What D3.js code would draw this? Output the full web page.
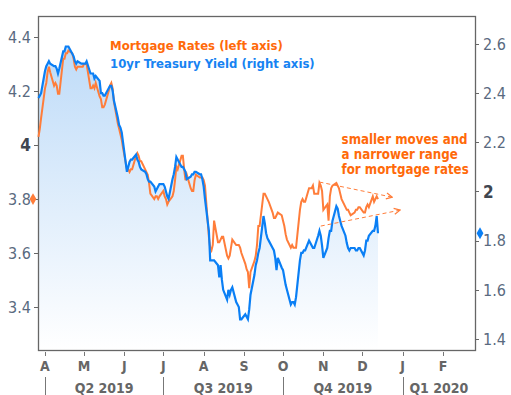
<!DOCTYPE html>
<html>
<head>
<meta charset="utf-8">
<script src="https://cdnjs.cloudflare.com/ajax/libs/d3/7.8.5/d3.min.js"></script>
<style>
body { margin: 0; background: #fff; }
text { font-family: "DejaVu Sans Condensed", "DejaVu Sans", sans-serif; }
</style>
</head>
<body>
<svg></svg>
<script>
var width = 511;
var height = 395;
var margin = {top: 16, right: 36, bottom: 45, left: 38};

// business days, Mar 27 - Dec 13 2019
var dates = d3.timeDay.range(new Date(2019, 2, 27), new Date(2019, 11, 14))
              .filter(d => d.getDay() % 6 !== 0);

// Mortgage rates (left axis), one per business day
var mortgage = [
  4.03, 4.06, 4.10,
  4.21, 4.23, 4.27, 4.29, 4.27,
  4.22, 4.23, 4.22, 4.19, 4.19,
  4.32, 4.32, 4.34, 4.34, 4.35,
  4.34, 4.32, 4.29, 4.28, 4.29,
  4.29, 4.29, 4.30, 4.30, 4.30,
  4.21, 4.21, 4.22, 4.21, 4.23,
  4.18, 4.17, 4.14, 4.14, 4.15,
  4.20, 4.22, 4.23, 4.21, 4.16,
  4.08, 4.06, 4.04, 4.02, 3.99,
  3.91, 3.91, 3.90, 3.91, 3.91,
  3.96, 3.97, 3.96, 3.94, 3.94,
  3.91, 3.90, 3.89, 3.86, 3.82,
  3.80, 3.81, 3.81, 3.80, 3.81,
  3.83, 3.81, 3.80, 3.78, 3.79,
  3.81, 3.83, 3.87, 3.92, 3.91,
  3.96, 3.96, 3.91, 3.87, 3.89,
  3.84, 3.83, 3.83, 3.87, 3.89,
  3.88, 3.88, 3.88, 3.87, 3.85,
  3.66, 3.62, 3.61, 3.63, 3.72,
  3.64, 3.64, 3.65, 3.66, 3.66,
  3.59, 3.58, 3.59, 3.62, 3.65,
  3.63, 3.63, 3.63, 3.62, 3.60,
  3.56, 3.54, 3.53, 3.47, 3.53,
  3.57, 3.59, 3.63, 3.70, 3.70,
  3.82, 3.82, 3.81, 3.80, 3.79,
  3.75, 3.73, 3.73, 3.74, 3.75,
  3.74, 3.72, 3.70, 3.67, 3.65,
  3.62, 3.63, 3.62, 3.62, 3.62,
  3.76, 3.79, 3.80, 3.79, 3.79,
  3.84, 3.84, 3.84, 3.85, 3.82,
  3.82, 3.86, 3.85, 3.83, 3.76,
  3.78, 3.72, 3.81, 3.84, 3.85,
  3.86, 3.85, 3.84, 3.82, 3.80,
  3.77, 3.76, 3.76, 3.75, 3.74,
  3.75, 3.76, 3.76, 3.77, 3.77,
  3.75, 3.75, 3.77, 3.78, 3.77,
  3.81, 3.79, 3.80, 3.81, 3.80
];

// 10yr Treasury yield (right axis)
var treasury = [
  2.38, 2.39, 2.40,
  2.49, 2.51, 2.52, 2.53, 2.52,
  2.51, 2.51, 2.50, 2.48, 2.50,
  2.57, 2.57, 2.59, 2.59, 2.59,
  2.56, 2.55, 2.53, 2.52, 2.53,
  2.52, 2.52, 2.52, 2.52, 2.53,
  2.48, 2.48, 2.48, 2.46, 2.47,
  2.45, 2.40, 2.40, 2.39, 2.39,
  2.42, 2.43, 2.43, 2.41, 2.37,
  2.30, 2.27, 2.26, 2.24, 2.20,
  2.08, 2.10, 2.12, 2.13, 2.13,
  2.15, 2.13, 2.12, 2.10, 2.09,
  2.08, 2.07, 2.05, 2.04, 2.04,
  2.02, 2.00, 2.01, 2.02, 2.03,
  2.03, 2.02, 2.00, 1.98, 1.97,
  2.05, 2.07, 2.10, 2.14, 2.13,
  2.10, 2.10, 2.09, 2.08, 2.05,
  2.06, 2.07, 2.07, 2.08, 2.08,
  2.07, 2.07, 2.05, 2.02, 1.97,
  1.84, 1.72, 1.72, 1.72, 1.72,
  1.70, 1.65, 1.70, 1.64, 1.60,
  1.56, 1.60, 1.58, 1.60, 1.61,
  1.55, 1.54, 1.53, 1.48, 1.48,
  1.50, 1.49, 1.48, 1.52, 1.58,
  1.66, 1.70, 1.72, 1.75, 1.77,
  1.90, 1.87, 1.83, 1.81, 1.80,
  1.77, 1.76, 1.73, 1.68, 1.73,
  1.69, 1.68, 1.65, 1.62, 1.60,
  1.54, 1.55, 1.55, 1.54, 1.57,
  1.72, 1.75, 1.75, 1.76, 1.76,
  1.80, 1.79, 1.78, 1.77, 1.77,
  1.82, 1.84, 1.82, 1.78, 1.73,
  1.77, 1.81, 1.84, 1.84, 1.88,
  1.94, 1.93, 1.90, 1.88, 1.86,
  1.82, 1.79, 1.77, 1.76, 1.77,
  1.77, 1.76, 1.76, 1.77, 1.77,
  1.74, 1.76, 1.80, 1.80, 1.82,
  1.84, 1.84, 1.86, 1.90, 1.83
];

var leftTicks = [3.4, 3.6, 3.8, 4, 4.2, 4.4];
var rightTicks = [1.4, 1.6, 1.8, 2, 2.2, 2.4, 2.6];
var monthTicks = d3.timeMonth.range(new Date(2019, 3, 1), new Date(2020, 1, 2));
var monthLabels = ["A", "M", "J", "J", "A", "S", "O", "N", "D", "J", "F"];
var quarterStarts = [new Date(2019, 3, 1), new Date(2019, 6, 1), new Date(2019, 9, 1), new Date(2020, 0, 1)];
var quarterLabels = ["Q2 2019", "Q3 2019", "Q4 2019", "Q1 2020"];
var legendLabels = ["Mortgage Rates (left axis)", "10yr Treasury Yield (right axis)"];
var noteLines = ["smaller moves and", "a narrower range", "for mortgage rates"];

var orange = "#ff7d3a", orangeText = "#ff6a0a";
var blue = "#0a7ff5", blueText = "#1683f2";

var svg = d3.select('svg')
            .attr('width', width)
            .attr('height', height);

var x = d3.scaleTime()
          .domain([new Date(2019, 2, 26, 15), new Date(2020, 1, 25, 14)])
          .range([margin.left, width - margin.right]);
var yL = d3.scaleLinear().domain([3.241, 4.478]).range([height - margin.bottom, margin.top]);
var yR = d3.scaleLinear().domain([1.355, 2.714]).range([height - margin.bottom, margin.top]);

var x0 = margin.left, x1 = width - margin.right;
var yTop = margin.top, yBot = height - margin.bottom;

var mData = dates.map((d, i) => ({date: d, v: mortgage[i]}));
var tData = dates.map((d, i) => ({date: d, v: treasury[i]}));

// gradient under the treasury line
var grad = svg.append("defs").append("linearGradient")
              .attr("id", "fillGrad")
              .attr("gradientUnits", "userSpaceOnUse")
              .attr("x1", 0).attr("x2", 0)
              .attr("y1", yTop + 20).attr("y2", yBot);
grad.append("stop").attr("offset", 0).attr("stop-color", "#bcdaf8");
grad.append("stop").attr("offset", 1).attr("stop-color", "#ffffff");

var marker = svg.select("defs").append("marker")
                .attr("id", "arrow")
                .attr("viewBox", "0 0 8 8")
                .attr("refX", 7).attr("refY", 4)
                .attr("markerWidth", 8).attr("markerHeight", 8)
                .attr("markerUnits", "userSpaceOnUse")
                .attr("orient", "auto");
marker.append("path").attr("d", "M1,1 L7,4 L1,7")
      .attr("fill", "none").attr("stroke", orange).attr("stroke-width", 1.2);

svg.append("path")
   .datum(tData)
   .attr("fill", "url(#fillGrad)")
   .attr("d", d3.area().x(d => x(d.date)).y0(yBot).y1(d => yR(d.v)));

// frame
svg.append("rect")
   .attr("x", x0 + 0.5).attr("y", yTop + 0.5)
   .attr("width", x1 - x0).attr("height", yBot - yTop)
   .attr("fill", "none").attr("stroke", "#666").attr("stroke-width", 1.3);

svg.append("path")
   .datum(mData)
   .attr("fill", "none").attr("stroke", orange).attr("stroke-width", 2)
   .attr("d", d3.line().x(d => x(d.date)).y(d => yL(d.v)));

svg.append("path")
   .datum(tData)
   .attr("fill", "none").attr("stroke", blue).attr("stroke-width", 2.2)
   .attr("d", d3.line().x(d => x(d.date)).y(d => yR(d.v)));

// left axis
var lg = svg.append("g");
lg.selectAll("line").data(leftTicks).enter().append("line")
  .attr("x1", x0 - 4).attr("x2", x0)
  .attr("y1", d => Math.round(yL(d)) + 0.5).attr("y2", d => Math.round(yL(d)) + 0.5)
  .attr("stroke", "#666");
lg.selectAll("text").data(leftTicks).enter().append("text")
  .attr("x", x0 - 7).attr("y", d => yL(d))
  .attr("dy", "0.36em")
  .attr("text-anchor", "end")
  .attr("font-size", d => d % 1 === 0 ? 17 : 16)
  .attr("font-weight", d => d % 1 === 0 ? "bold" : "normal")
  .attr("fill", d => d % 1 === 0 ? "#3f4650" : "#5a6a80")
  .text(d => d);

// right axis
var rg = svg.append("g");
rg.selectAll("line").data(rightTicks).enter().append("line")
  .attr("x1", x1).attr("x2", x1 + 4)
  .attr("y1", d => Math.round(yR(d)) + 0.5).attr("y2", d => Math.round(yR(d)) + 0.5)
  .attr("stroke", "#666");
rg.selectAll("text").data(rightTicks).enter().append("text")
  .attr("x", x1 + 8).attr("y", d => yR(d))
  .attr("dy", "0.36em")
  .attr("font-size", d => d % 1 === 0 ? 17 : 16)
  .attr("font-weight", d => d % 1 === 0 ? "bold" : "normal")
  .attr("fill", d => d % 1 === 0 ? "#3f4650" : "#5a6a80")
  .text(d => d);

// last-value diamonds
var diamond = d3.symbol().type(d3.symbolDiamond).size(40);
svg.append("path").attr("d", diamond)
   .attr("transform", "translate(" + (x0 - 5) + "," + yL(mortgage[mortgage.length - 1]) + ")")
   .attr("fill", orange);
svg.append("path").attr("d", diamond)
   .attr("transform", "translate(" + (x1 + 5) + "," + yR(treasury[treasury.length - 1]) + ")")
   .attr("fill", blue);

// months
var xg = svg.append("g");
xg.selectAll("line").data(monthTicks).enter().append("line")
  .attr("x1", d => Math.round(x(d)) + 0.5).attr("x2", d => Math.round(x(d)) + 0.5)
  .attr("y1", yBot + 2).attr("y2", yBot + 6)
  .attr("stroke", "#777");
xg.selectAll("text").data(monthTicks).enter().append("text")
  .attr("x", d => x(d)).attr("y", yBot + 21)
  .attr("text-anchor", "middle")
  .attr("font-size", 14).attr("font-weight", "bold")
  .attr("fill", "#666")
  .text((d, i) => monthLabels[i]);

// quarters
var qg = svg.append("g");
qg.selectAll("line").data(quarterStarts).enter().append("line")
  .attr("x1", d => Math.round(x(d)) + 0.5).attr("x2", d => Math.round(x(d)) + 0.5)
  .attr("y1", yBot + 27).attr("y2", height)
  .attr("stroke", "#777");
qg.selectAll("text").data(quarterStarts).enter().append("text")
  .attr("x", (d, i) => {
      var end = i < quarterStarts.length - 1 ? x(quarterStarts[i + 1]) : x1;
      return (x(d) + Math.min(end, x1)) / 2;
  })
  .attr("y", yBot + 43)
  .attr("text-anchor", "middle")
  .attr("font-size", 14).attr("font-weight", "bold")
  .attr("fill", "#666")
  .text((d, i) => quarterLabels[i]);

// legend
svg.append("text").attr("x", 110).attr("y", 49.5)
   .attr("font-size", 13).attr("font-weight", "bold").attr("fill", orangeText)
   .text(legendLabels[0]);
svg.append("text").attr("x", 110).attr("y", 68)
   .attr("font-size", 13).attr("font-weight", "bold").attr("fill", blueText)
   .text(legendLabels[1]);

// annotation
var note = svg.append("text")
              .attr("x", x(new Date(2019, 10, 15)))
              .attr("y", yL(4.004))
              .attr("font-size", 13.2).attr("font-weight", "bold").attr("fill", orangeText);
note.selectAll("tspan").data(noteLines).enter().append("tspan")
    .attr("x", x(new Date(2019, 10, 15)))
    .attr("dy", (d, i) => i ? 15 : 0)
    .text(d => d);

var arrows = [
  [[new Date(2019, 9, 29), 3.863], [new Date(2019, 11, 24), 3.807]],
  [[new Date(2019, 9, 30), 3.700], [new Date(2019, 11, 30), 3.759]]
];
svg.selectAll(".arrow").data(arrows).enter().append("line")
   .attr("class", "arrow")
   .attr("x1", d => x(d[0][0])).attr("y1", d => yL(d[0][1]))
   .attr("x2", d => x(d[1][0])).attr("y2", d => yL(d[1][1]))
   .attr("stroke", orange).attr("stroke-width", 1)
   .attr("stroke-dasharray", "4,3")
   .attr("marker-end", "url(#arrow)");
</script>
</body>
</html>
